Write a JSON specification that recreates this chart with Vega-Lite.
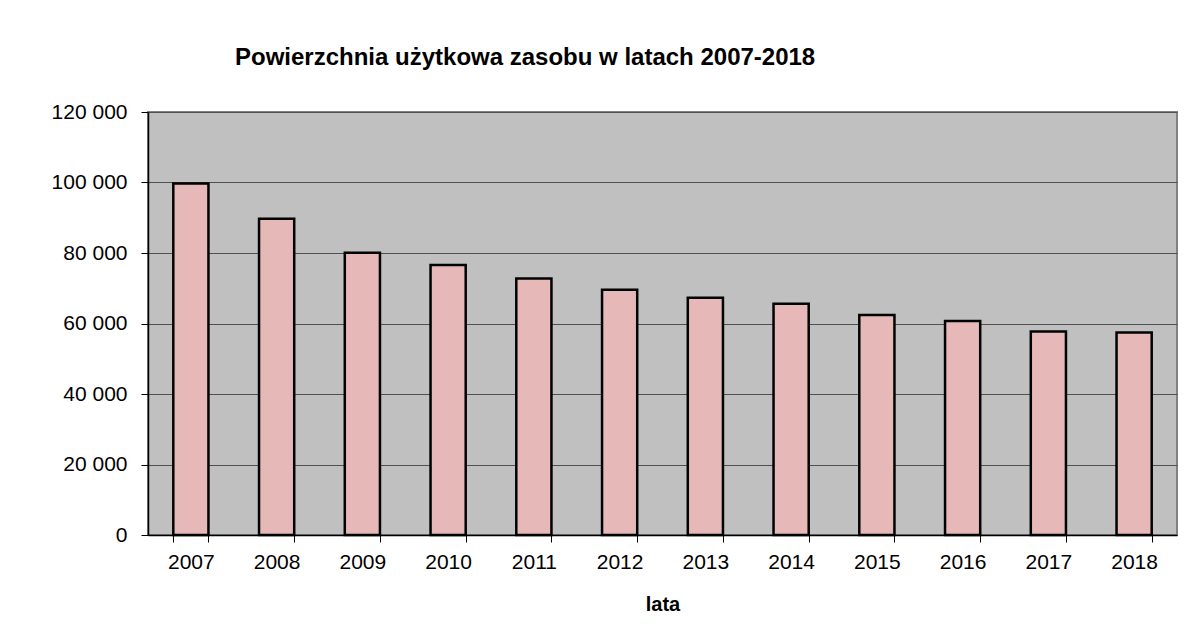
{
  "$schema": "https://vega.github.io/schema/vega-lite/v6.json",
  "autosize": {"type": "none"},
  "width": 1029,
  "height": 423,
  "padding": {"left": 148, "top": 112, "right": 17, "bottom": 104},
  "background": "white",
  "title": {
    "text": "Powierzchnia użytkowa zasobu w latach 2007-2018",
    "anchor": "start",
    "frame": "group",
    "dx": 87,
    "offset": 31,
    "font": "Liberation Sans",
    "fontSize": 24,
    "fontWeight": "bold",
    "color": "black"
  },
  "data": {
    "values": [
      {"rok": "2007", "powierzchnia": 99700},
      {"rok": "2008", "powierzchnia": 89750},
      {"rok": "2009", "powierzchnia": 80100},
      {"rok": "2010", "powierzchnia": 76600},
      {"rok": "2011", "powierzchnia": 72780},
      {"rok": "2012", "powierzchnia": 69570},
      {"rok": "2013", "powierzchnia": 67300},
      {"rok": "2014", "powierzchnia": 65600},
      {"rok": "2015", "powierzchnia": 62400},
      {"rok": "2016", "powierzchnia": 60700},
      {"rok": "2017", "powierzchnia": 57750},
      {"rok": "2018", "powierzchnia": 57450}
    ]
  },
  "mark": {"type": "bar", "fill": "#E6B8B8", "stroke": "black", "strokeWidth": 2.5},
  "encoding": {
    "x": {
      "field": "rok",
      "type": "ordinal",
      "scale": {"paddingInner": 0.59, "paddingOuter": 0.295},
      "axis": {
        "title": "lata",
        "titleFont": "Liberation Sans",
        "titleFontSize": 20,
        "titleFontWeight": "bold",
        "titleColor": "black",
        "titlePadding": 22,
        "labelAngle": 0,
        "labelFont": "Liberation Sans",
        "labelFontSize": 21,
        "labelColor": "black",
        "labelPadding": 9,
        "tickBand": "extent",
        "tickSize": 7,
        "tickColor": "black",
        "tickWidth": 1,
        "domainColor": "black",
        "domainWidth": 1.5
      }
    },
    "y": {
      "field": "powierzchnia",
      "type": "quantitative",
      "scale": {"domain": [0, 120000], "nice": false},
      "axis": {
        "title": null,
        "values": [0, 20000, 40000, 60000, 80000, 100000, 120000],
        "labelExpr": "replace(format(datum.value, ','), ',', ' ')",
        "labelFont": "Liberation Sans",
        "labelFontSize": 21,
        "labelColor": "black",
        "labelPadding": 14,
        "tickSize": 7,
        "tickColor": "black",
        "tickWidth": 1,
        "domainColor": "black",
        "domainWidth": 1.5,
        "grid": true,
        "gridColor": "#505050",
        "gridWidth": 1.2
      }
    }
  },
  "config": {
    "view": {"fill": "#C0C0C0", "stroke": "#808080", "strokeWidth": 2}
  }
}
